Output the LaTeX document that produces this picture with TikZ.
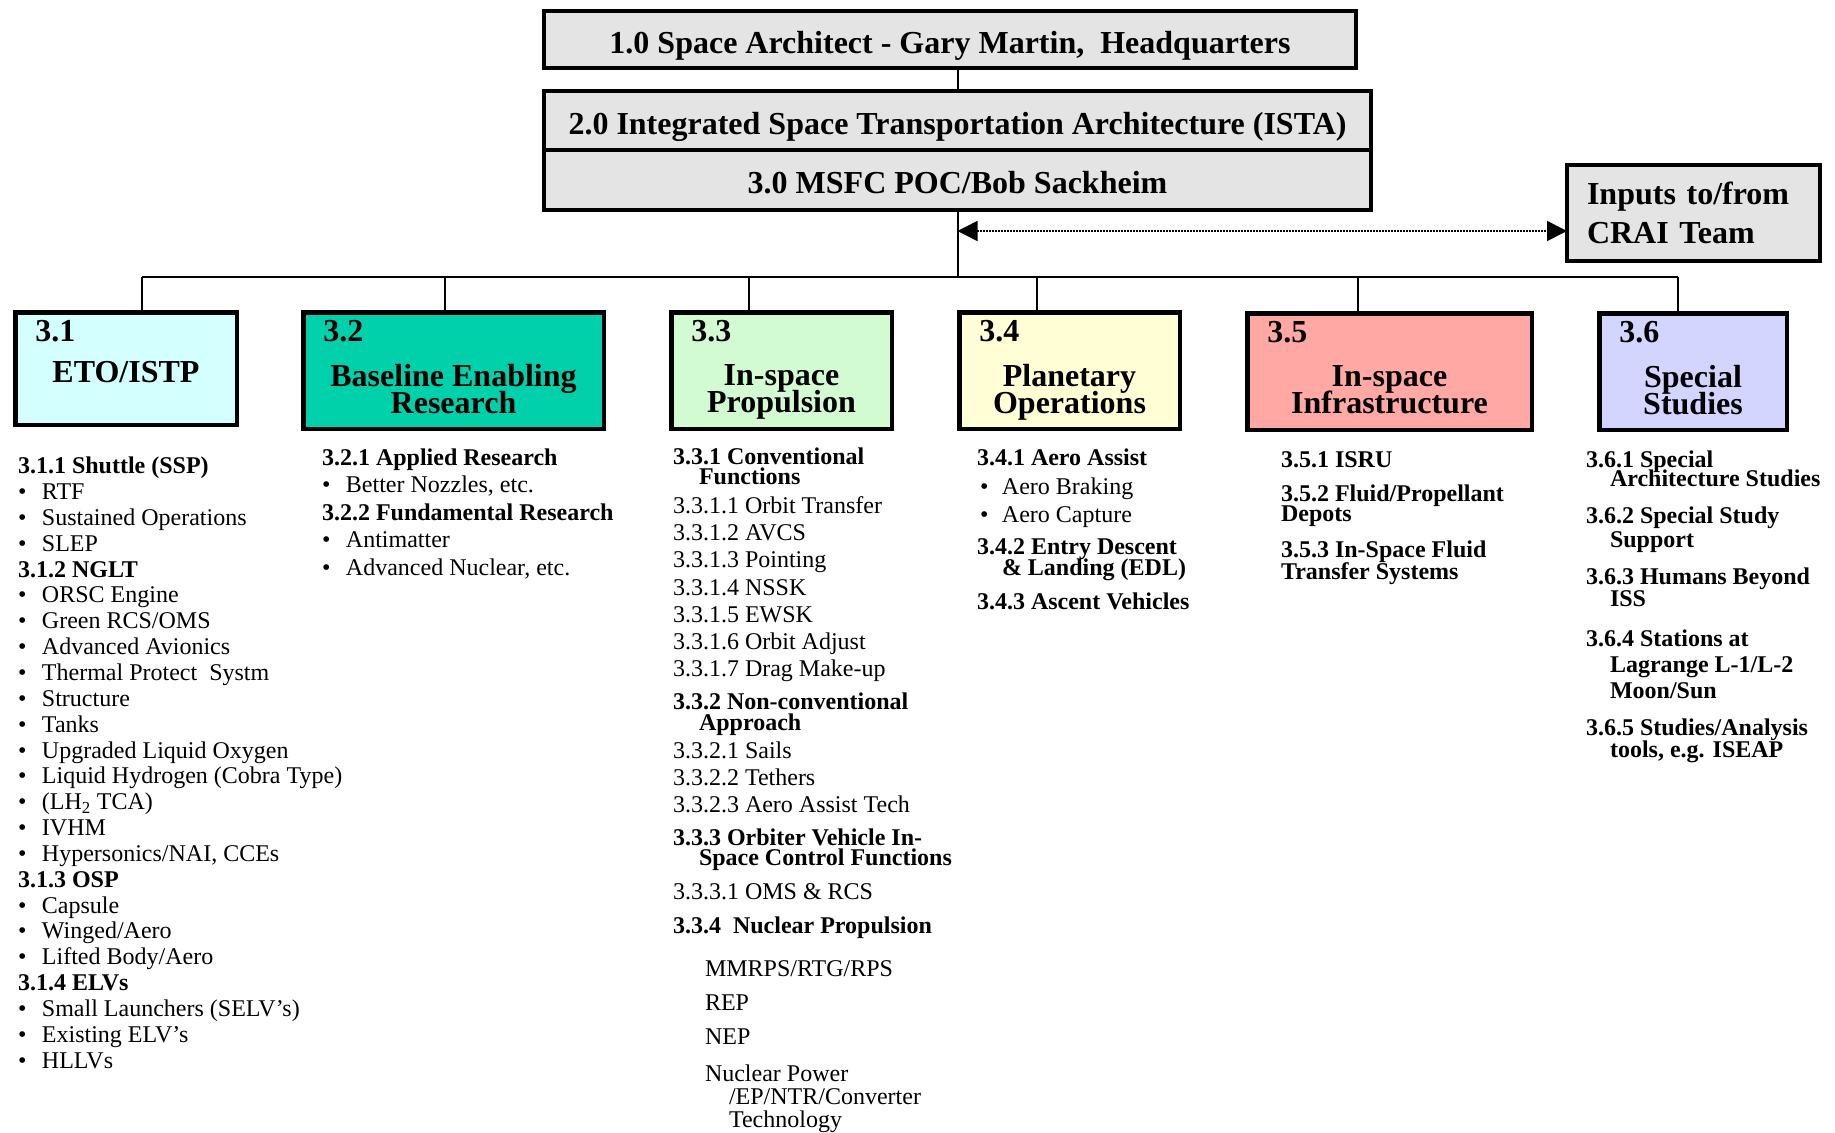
\documentclass[tikz,border=0pt]{standalone}
\usepackage{fontspec}
\setmainfont{Liberation Serif}
\usetikzlibrary{arrows.meta}

\definecolor{boxgray}{RGB}{228,228,228}
\definecolor{etocyan}{RGB}{212,255,255}
\definecolor{berteal}{RGB}{0,209,170}
\definecolor{propgreen}{RGB}{210,251,210}
\definecolor{planyellow}{RGB}{255,254,212}
\definecolor{infrared}{RGB}{255,168,164}
\definecolor{studyblue}{RGB}{212,213,255}

\newcommand{\itembullet}{\makebox[24pt][l]{\textbullet}}
\newcommand{\tightlines}{\lineskiplimit=-40pt\relax}

\begin{document}
\begin{tikzpicture}[
        x=1pt, y=-1pt,
        every node/.style={inner sep=0pt, outer sep=0pt},
        topbox/.style={draw, line width=4pt, fill=boxgray, text height=27pt, text depth=0pt, font=\fontsize{32}{36}\selectfont\bfseries},
        catbox/.style={draw, line width=4.5pt},
        catnum/.style={anchor=base west, font=\fontsize{32}{36}\selectfont\bfseries},
        cattitle/.style={anchor=north, align=center, font=\fontsize{32}{27}\selectfont\bfseries\tightlines},
        items/.style={anchor=north west, align=left, font=\fontsize{24}{#1}\selectfont\tightlines},
        bolditems/.style={items=#1, font=\fontsize{24}{#1}\selectfont\bfseries\tightlines},
        link/.style={line width=2pt},
    ]
    \useasboundingbox (0,0) rectangle (1835,1132);

    % management chain
    \node[topbox, minimum width=812pt, minimum height=57pt] (arch) at (950,39.5) {1.0 Space Architect - Gary Martin,~ Headquarters};
    \node[topbox, minimum width=827pt, minimum height=59pt] (ista) at (957.5,120.5) {2.0 Integrated Space Transportation Architecture (ISTA)};
    \node[topbox, minimum width=827pt, minimum height=60pt, anchor=north] (msfc) at (ista.south) {3.0 MSFC POC/Bob Sackheim};
    \node[topbox, minimum width=253pt, minimum height=96pt, text width=213pt, inner xsep=20pt, align=left, text height=, text depth=,
        font=\fontsize{32}{38.6}\selectfont\bfseries] (crai) at (1693.5,213) {Inputs to/from\\CRAI Team};

    % WBS 3.x elements
    \node[catbox, fill=etocyan, minimum width=221.5pt, minimum height=112.5pt] (eto) at (126,368.5) {};
    \node[catbox, fill=berteal, minimum width=300.5pt, minimum height=116.5pt] (ber) at (453.5,370.5) {};
    \node[catbox, fill=propgreen, minimum width=220.5pt, minimum height=116.5pt] (prop) at (781.5,370.5) {};
    \node[catbox, fill=planyellow, minimum width=220.5pt, minimum height=116.5pt] (plan) at (1069.5,370.5) {};
    \node[catbox, fill=infrared, minimum width=284.5pt, minimum height=116.5pt] (infra) at (1389.5,371.5) {};
    \node[catbox, fill=studyblue, minimum width=187.5pt, minimum height=116.5pt] (study) at (1693,371.5) {};

    \foreach \b/\num in {eto/3.1, ber/3.2, prop/3.3, plan/3.4, infra/3.5, study/3.6}
        \node[catnum] (\b-num) at ([xshift=20pt, yshift=-29pt]\b.north west) {\num};

    \node[cattitle] (eto-title) at ([yshift=-49pt]eto.north) {ETO/ISTP};
    \node[cattitle] (ber-title) at ([yshift=-52pt]ber.north) {Baseline Enabling\\Research};
    \node[cattitle] (prop-title) at ([yshift=-52pt]prop.north) {In-space\\Propulsion};
    \node[cattitle] (plan-title) at ([yshift=-52pt]plan.north) {Planetary\\Operations};
    \node[cattitle] (infra-title) at ([yshift=-52pt]infra.north) {In-space\\Infrastructure};
    \node[cattitle] (study-title) at ([yshift=-52pt]study.north) {Special\\Studies};

    % connectors
    \draw[link] (arch.south -| ista.north) -- (ista.north);
    \coordinate (hub) at (957.5,277);
    \draw[link] (msfc.south) -- (hub);
    \foreach \b/\x in {eto/142, ber/445, prop/749, plan/1037, infra/1358, study/1678} {
        \coordinate (\b-drop) at (\x,277);
        \draw[link] (\b-drop) -- (\b-drop |- \b.north);
    }
    \draw[link] (eto-drop) -- (study-drop);

    \coordinate (tap) at (957.5,231);
    \draw[line width=1.5pt, dash pattern=on 1.5pt off 1.5pt,
        {Triangle[length=20pt,width=20pt]}-{Triangle[length=20pt,width=20pt]}] (tap) -- (tap -| crai.west);

    % sub-element lists
    \node[items=25.85] (eto-list) at (18,457) {%
        \textbf{3.1.1 Shuttle (SSP)}\\
        \itembullet RTF\\
        \itembullet Sustained Operations\\
        \itembullet SLEP\\
        \textbf{3.1.2 NGLT}\\
        \itembullet ORSC Engine\\
        \itembullet Green RCS/OMS\\
        \itembullet Advanced Avionics\\
        \itembullet Thermal Protect~ Systm\\
        \itembullet Structure\\
        \itembullet Tanks\\
        \itembullet Upgraded Liquid Oxygen\\
        \itembullet Liquid Hydrogen (Cobra Type)\\
        \itembullet (LH\textsubscript{2} TCA)\\
        \itembullet IVHM\\
        \itembullet Hypersonics/NAI, CCEs\\
        \textbf{3.1.3 OSP}\\
        \itembullet Capsule\\
        \itembullet Winged/Aero\\
        \itembullet Lifted Body/Aero\\
        \textbf{3.1.4 ELVs}\\
        \itembullet Small Launchers (SELV’s)\\
        \itembullet Existing ELV’s\\
        \itembullet HLLVs};

    \node[items=27.5] (ber-list) at (322,448.5) {%
        \textbf{3.2.1 Applied Research}\\
        \itembullet Better Nozzles, etc.\\
        \textbf{3.2.2 Fundamental Research}\\
        \itembullet Antimatter\\
        \itembullet Advanced Nuclear, etc.};

    \node[items=27.3] (prop-list) at (673,447.5) {%
        \textbf{3.3.1 Conventional}\\[-7.3pt]
        \hspace*{26pt}\textbf{Functions}\\[1.7pt]
        3.3.1.1 Orbit Transfer\\
        3.3.1.2 AVCS\\
        3.3.1.3 Pointing\\
        3.3.1.4 NSSK\\
        3.3.1.5 EWSK\\
        3.3.1.6 Orbit Adjust\\
        3.3.1.7 Drag Make-up\\[5.7pt]
        \textbf{3.3.2 Non-conventional}\\[-6.3pt]
        \hspace*{26pt}\textbf{Approach}\\
        3.3.2.1 Sails\\
        3.3.2.2 Tethers\\
        3.3.2.3 Aero Assist Tech\\[5.7pt]
        \textbf{3.3.3 Orbiter Vehicle In-}\\[-7.3pt]
        \hspace*{26pt}\textbf{Space Control Functions}\\[6.7pt]
        3.3.3.1 OMS \& RCS\\[6.7pt]
        \textbf{3.3.4~ Nuclear Propulsion}\\[15.7pt]
        \hspace*{32pt}MMRPS/RTG/RPS\\[6.7pt]
        \hspace*{32pt}REP\\[6.7pt]
        \hspace*{32pt}NEP\\[9.7pt]
        \hspace*{32pt}Nuclear Power\\[-5pt]
        \hspace*{56pt}/EP/NTR/Converter\\[-4pt]
        \hspace*{56pt}Technology};

    \node[items=28] (plan-list) at (977,448.5) {%
        \textbf{3.4.1 Aero Assist}\\[1.3pt]
        \hspace*{3pt}\makebox[22pt][l]{\textbullet}Aero Braking\\
        \hspace*{3pt}\makebox[22pt][l]{\textbullet}Aero Capture\\[3.6pt]
        \textbf{3.4.2 Entry Descent}\\[-7pt]
        \hspace*{25pt}\textbf{\& Landing (EDL)}\\[6pt]
        \textbf{3.4.3 Ascent Vehicles}};

    \node[bolditems=34] (infra-list) at (1281,451.5) {%
        3.5.1 ISRU\\
        3.5.2 Fluid/Propellant\\[-14pt]
        Depots\\[2pt]
        3.5.3 In-Space Fluid\\[-12pt]
        Transfer Systems};

    \node[bolditems=37.5] (study-list) at (1586,451) {%
        3.6.1 Special\\[-18.8pt]
        \hspace*{24pt}Architecture Studies\\
        3.6.2 Special Study\\[-14.1pt]
        \hspace*{24pt}Support\\
        3.6.3 Humans Beyond\\[-15.3pt]
        \hspace*{24pt}ISS\\[2.3pt]
        3.6.4 Stations at\\[-11.7pt]
        \hspace*{24pt}Lagrange L-1/L-2\\[-11.8pt]
        \hspace*{24pt}Moon/Sun\\
        3.6.5 Studies/Analysis\\[-15.3pt]
        \hspace*{24pt}tools, e.g. ISEAP};
\end{tikzpicture}
\end{document}
